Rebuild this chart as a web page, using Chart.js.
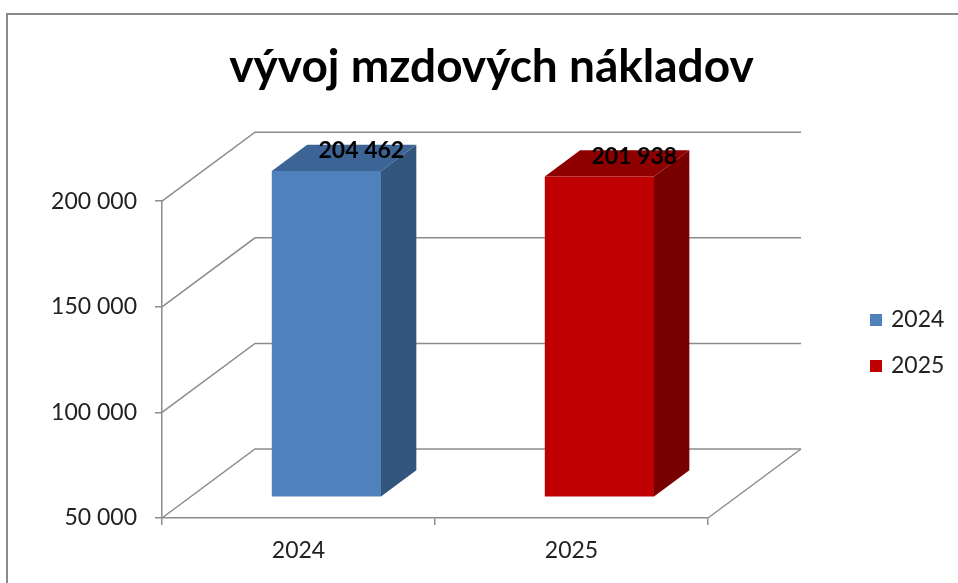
<!DOCTYPE html>
<html>
<head>
<meta charset="utf-8">
<script src="https://cdn.jsdelivr.net/npm/chart.js@4.4.1/dist/chart.umd.min.js"></script>
<style>
  html, body { margin: 0; padding: 0; background: #fff; }
</style>
</head>
<body>
<canvas id="chart" width="958" height="583"></canvas>
<script>
const years = ['2024', '2025'];
const costs = [204462, 201938];
const valueTicks = [50000, 100000, 150000, 200000];
const frontColors = ['#4f81bd', '#c00000'];
const topColors = ['#3c6596', '#8e0000'];
const sideColors = ['#33567f', '#780000'];

// 3D look: how far the back wall sits from the front plane
const DEPTH_X = 93, DEPTH_Y = -69;
const BAR_FRONT = 0.3, BAR_BACK = 0.68;
const GRID = '#8c8c8c';
const FONT = 'Lato, "Open Sans", sans-serif';
const TEXT = '#222';

const fmt = v => String(v).replace(/\B(?=(\d{3})+(?!\d))/g, ' ');

const frame = {
  id: 'frame',
  beforeDraw(chart) {
    const { ctx, chartArea: a, scales } = chart;
    ctx.save();
    ctx.strokeStyle = '#8a8a8a';
    ctx.lineWidth = 2;
    ctx.strokeRect(7, 14, 1000, 1000);

    ctx.strokeStyle = GRID;
    ctx.lineWidth = 1.5;
    valueTicks.forEach(v => {
      const y = scales.y.getPixelForValue(v);
      ctx.beginPath();
      ctx.moveTo(a.left, y);
      ctx.lineTo(a.left + DEPTH_X, y + DEPTH_Y);
      ctx.lineTo(a.right + DEPTH_X, y + DEPTH_Y);
      ctx.stroke();
    });
    // right edge of the floor
    ctx.beginPath();
    ctx.moveTo(a.right, a.bottom);
    ctx.lineTo(a.right + DEPTH_X, a.bottom + DEPTH_Y);
    ctx.stroke();
    ctx.restore();
  }
};

const bars3d = {
  id: 'bars3d',
  beforeDatasetsDraw(chart) {
    chart.ctx.save();
    chart.ctx.translate(DEPTH_X * BAR_FRONT, DEPTH_Y * BAR_FRONT);
  },
  afterDatasetsDraw(chart) {
    const ctx = chart.ctx;
    ctx.restore();
    const sx = DEPTH_X * BAR_FRONT, sy = DEPTH_Y * BAR_FRONT;
    const dx = DEPTH_X * (BAR_BACK - BAR_FRONT), dy = DEPTH_Y * (BAR_BACK - BAR_FRONT);
    chart.getDatasetMeta(0).data.forEach((el, i) => {
      const l = el.x - el.width / 2 + sx, r = el.x + el.width / 2 + sx;
      const t = el.y + sy, b = el.base + sy;
      ctx.fillStyle = sideColors[i];
      ctx.beginPath();
      ctx.moveTo(r, t); ctx.lineTo(r + dx, t + dy); ctx.lineTo(r + dx, b + dy); ctx.lineTo(r, b);
      ctx.closePath(); ctx.fill();
      ctx.fillStyle = topColors[i];
      ctx.beginPath();
      ctx.moveTo(l, t); ctx.lineTo(l + dx, t + dy); ctx.lineTo(r + dx, t + dy); ctx.lineTo(r, t);
      ctx.closePath(); ctx.fill();
    });
    ctx.save();
    ctx.font = 'bold 23px ' + FONT;
    ctx.fillStyle = '#000';
    ctx.textAlign = 'center';
    ctx.textBaseline = 'middle';
    chart.getDatasetMeta(0).data.forEach((el, i) => {
      ctx.fillText(fmt(costs[i]), el.x + sx + el.width * 0.32, el.y + sy - 20);
    });
    ctx.restore();
  }
};

const sideLegend = {
  id: 'sideLegend',
  afterDraw(chart) {
    const ctx = chart.ctx;
    ctx.save();
    ctx.font = '23px ' + FONT;
    ctx.textBaseline = 'middle';
    years.forEach((yr, i) => {
      const cy = 320 + i * 46;
      ctx.fillStyle = frontColors[i];
      ctx.fillRect(870, cy - 6, 12, 12);
      ctx.fillStyle = TEXT;
      ctx.fillText(yr, 891, cy);
    });
    ctx.restore();
  }
};

new Chart(document.getElementById('chart'), {
  type: 'bar',
  data: {
    labels: years,
    datasets: [{
      label: 'mzdové náklady',
      data: costs,
      base: 50000,
      clip: false,
      backgroundColor: frontColors,
      borderWidth: 0,
      barPercentage: 0.4,
      categoryPercentage: 1.0
    }]
  },
  options: {
    responsive: false,
    animation: false,
    layout: { padding: { left: 25, right: 0, top: 0, bottom: 0 } },
    scales: {
      x: {
        grid: { drawOnChartArea: false, tickLength: 7, color: GRID, lineWidth: 1.5 },
        border: { color: GRID, width: 1.5 },
        ticks: { font: { family: FONT, size: 23 }, color: TEXT, padding: 12 },
        afterFit: s => { s.height = 65; }
      },
      y: {
        min: 50000,
        max: 200000,
        afterBuildTicks: s => { s.ticks = valueTicks.map(v => ({ value: v })); },
        grid: { drawOnChartArea: false, tickLength: 7, color: GRID, lineWidth: 1.5 },
        border: { color: GRID, width: 1.5 },
        ticks: { font: { family: FONT, size: 23 }, color: TEXT, padding: 18, callback: v => fmt(v) },
        afterFit: s => { s.width = 137; }
      },
      yr: {
        position: 'right',
        min: 0, max: 1,
        grid: { display: false },
        border: { display: false },
        ticks: { display: false },
        afterFit: s => { s.width = 250; }
      }
    },
    plugins: {
      legend: { display: false },
      tooltip: { enabled: false },
      title: {
        display: true,
        text: 'vývoj mzdových nákladov',
        color: '#000',
        font: { family: FONT, size: 46, weight: 'bold' },
        padding: { top: 40, bottom: 106 }
      }
    }
  },
  plugins: [frame, bars3d, sideLegend]
});
</script>
</body>
</html>
